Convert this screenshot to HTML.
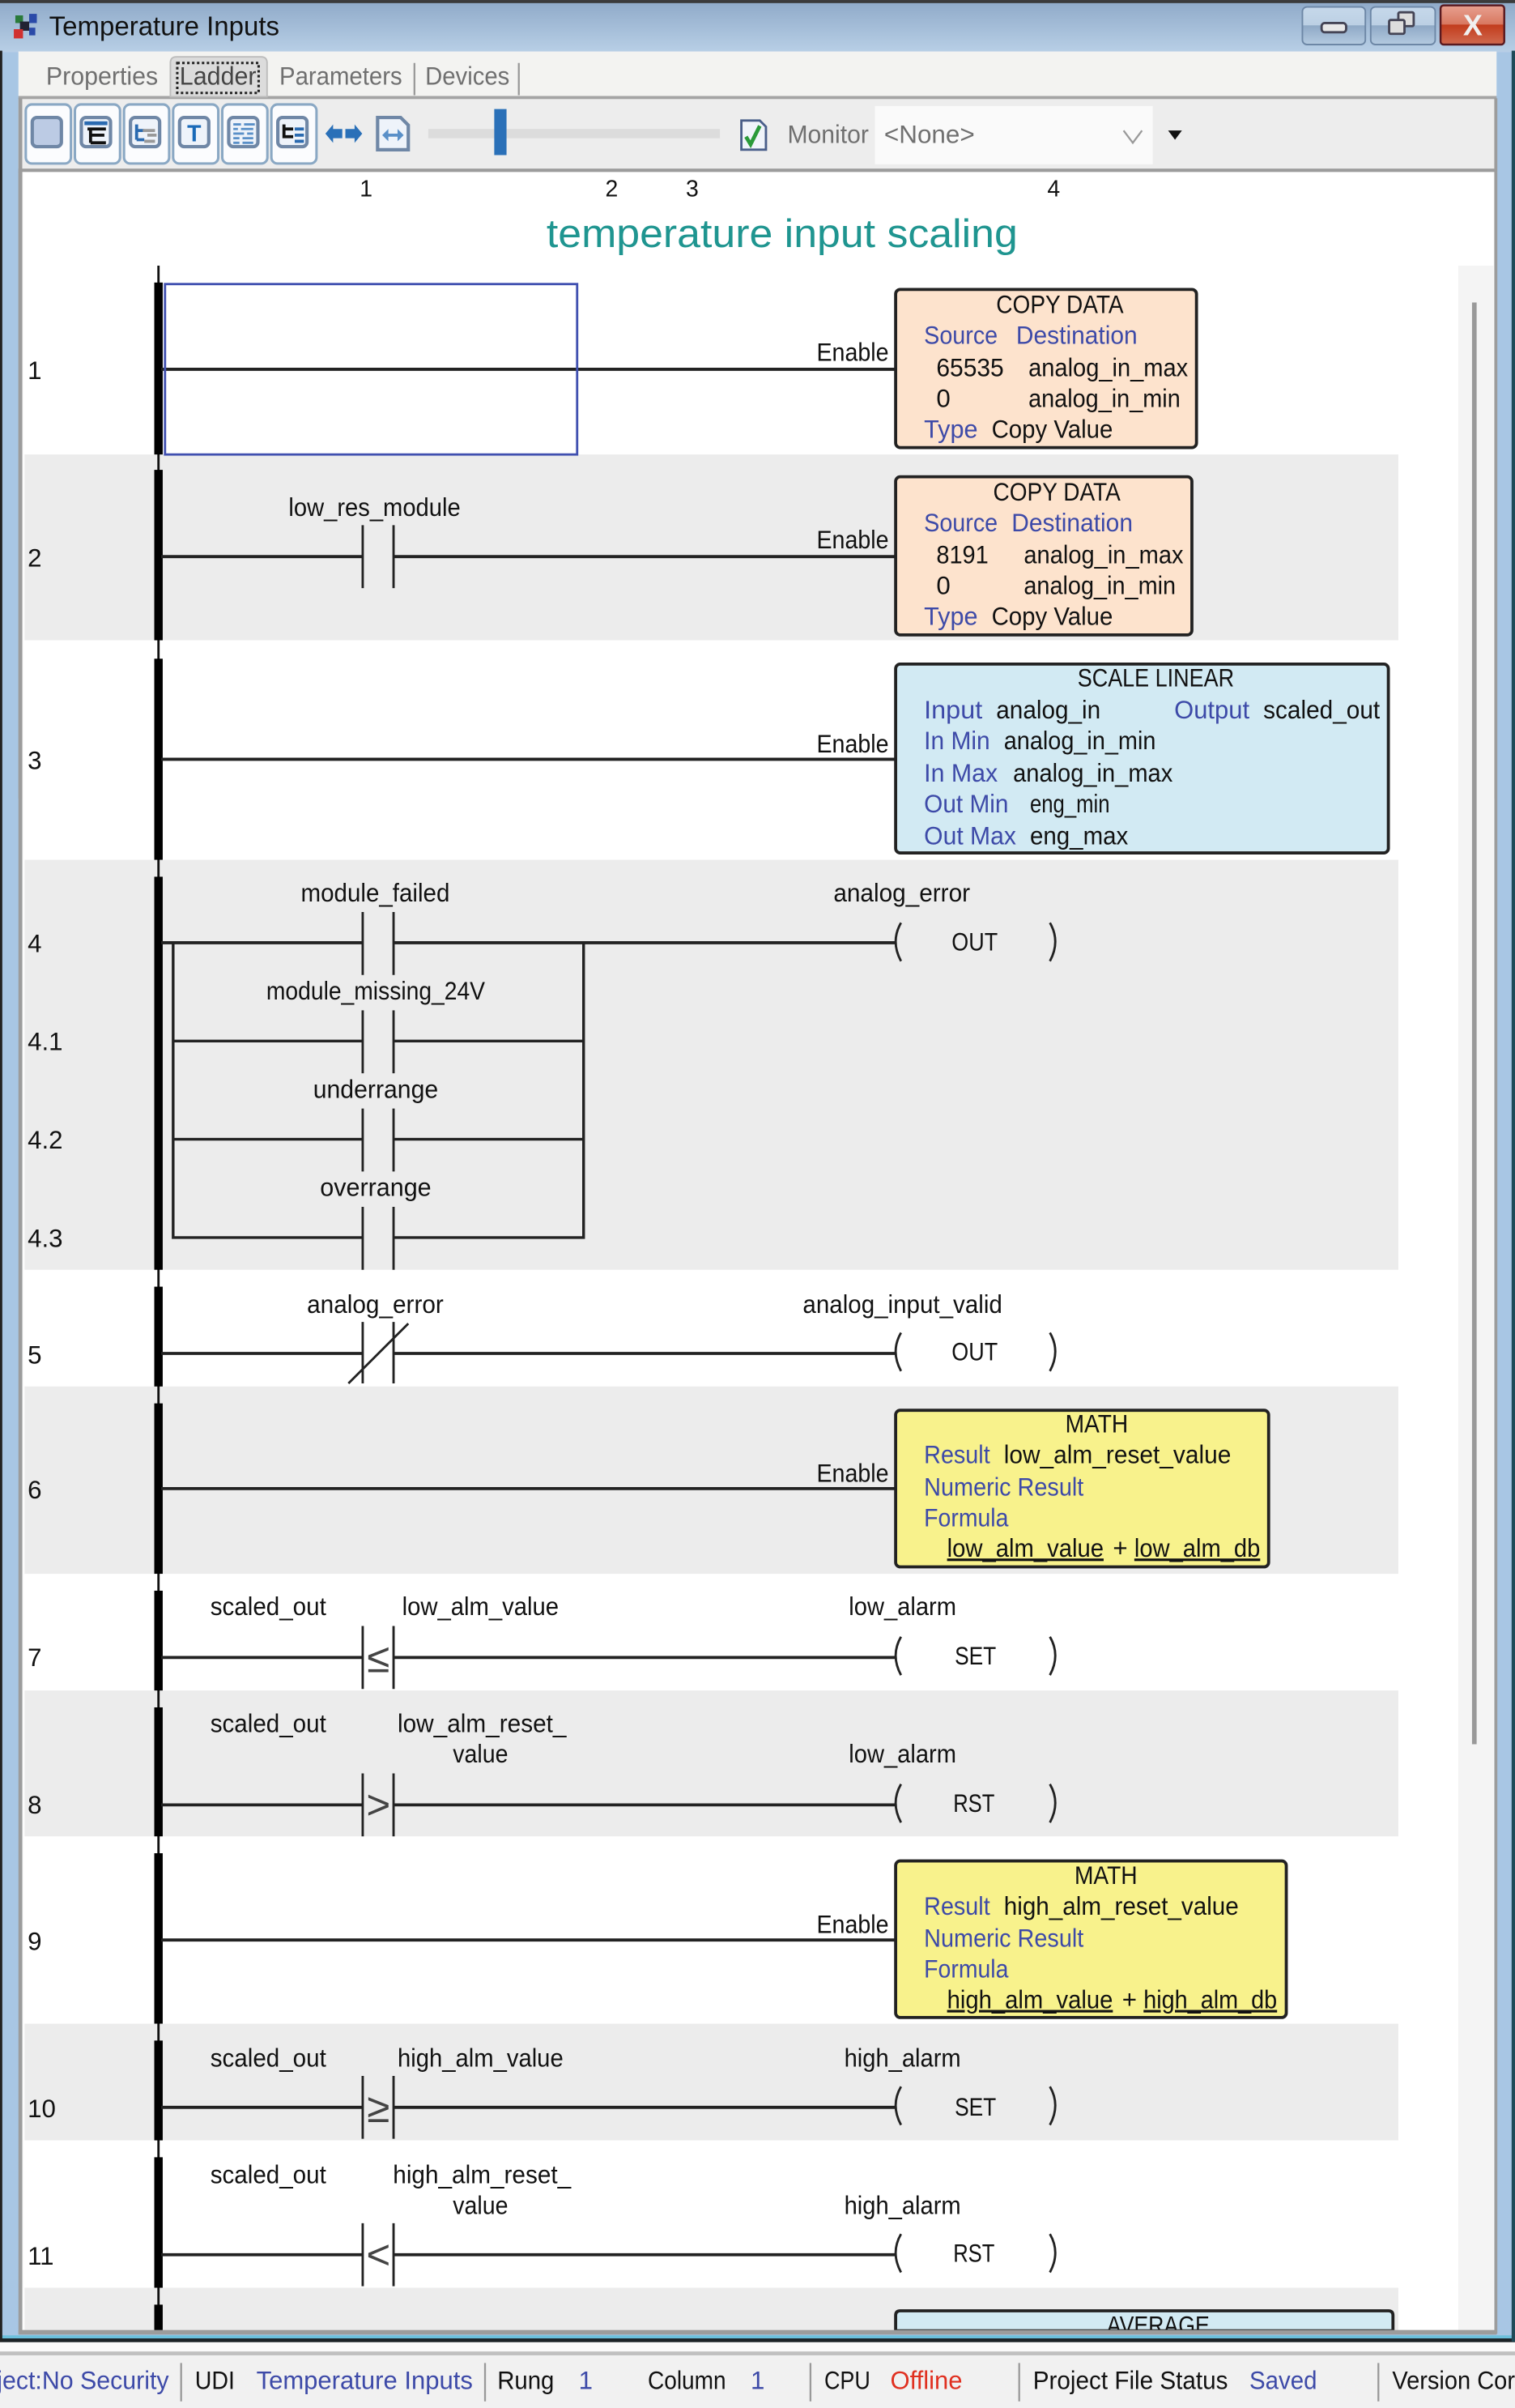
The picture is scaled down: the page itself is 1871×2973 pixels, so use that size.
<!DOCTYPE html>
<html><head><meta charset="utf-8"><title>Temperature Inputs</title>
<style>
html,body{margin:0;padding:0;background:#fff}
svg{display:block}
text{font-family:"Liberation Sans",sans-serif;font-size:16.5px;fill:#111}
.b{fill:#3d4aa8}
.g{fill:#707070}
.w{stroke:#222;stroke-width:2;fill:none}
.c{stroke:#222;stroke-width:1.5;fill:none}
.r{fill:#000}
.m{text-anchor:middle}
.k{font-size:27px;fill:#444}
</style></head><body>
<svg xmlns="http://www.w3.org/2000/svg" width="1871" height="2973" viewBox="0 0 987 1568.3">
<defs>
<linearGradient id="tb" x1="0" y1="0" x2="0" y2="1"><stop offset="0" stop-color="#8ea9c8"/><stop offset="1" stop-color="#b8cfe6"/></linearGradient>
<linearGradient id="btn" x1="0" y1="0" x2="0" y2="1"><stop offset="0" stop-color="#c6d8ea"/><stop offset=".48" stop-color="#bcd0e4"/><stop offset=".5" stop-color="#8fa9c6"/><stop offset="1" stop-color="#b4cae0"/></linearGradient>
<linearGradient id="cl" x1="0" y1="0" x2="0" y2="1"><stop offset="0" stop-color="#e8a090"/><stop offset=".48" stop-color="#d87860"/><stop offset=".5" stop-color="#c23c1c"/><stop offset="1" stop-color="#d06a50"/></linearGradient>
<clipPath id="cp"><rect x="700" y="1500" width="110" height="18"/></clipPath>
</defs>
<rect width="987" height="1568.3" fill="#fff"/>
<!-- window frame -->
<rect x="0" y="0" width="987" height="1523" fill="#a8c6e4"/>
<rect x="0" y="0" width="987" height="34" fill="url(#tb)"/>
<rect x="0" y="0" width="987" height="2" fill="#3a3a3a"/>
<rect x="0" y="1521" width="987" height="2.5" fill="#6cc0dc"/>
<rect x="0" y="1523" width="987" height="2.5" fill="#1c2226"/>
<rect x="0" y="33" width="1.500" height="1492" fill="#222"/>
<rect x="984.800" y="33" width="2.200" height="1492" fill="#1f4a58"/>
<!-- title -->
<rect x="10" y="10" width="5" height="5" fill="#2a7a3a"/><rect x="19" y="9" width="5" height="6" fill="#2a4aa8"/><rect x="13" y="14" width="6" height="6" fill="#223"/><rect x="9" y="19" width="6" height="6" fill="#d03030"/><rect x="19" y="18" width="4" height="5" fill="#2a4aa8"/>
<text x="32" y="23" textLength="150" lengthAdjust="spacingAndGlyphs" style="font-size:17.5px">Temperature Inputs</text>
<rect x="848.500" y="4.500" width="41" height="24.500" rx="3" fill="url(#btn)" stroke="#6d87a6"/>
<rect x="861" y="15" width="16" height="6" rx="2" fill="#e8e8e8" stroke="#445" stroke-width="1.500"/>
<rect x="893" y="4.500" width="42" height="24.500" rx="3" fill="url(#btn)" stroke="#6d87a6"/>
<rect x="911" y="8" width="10" height="9" rx="1" fill="#ddd" stroke="#445" stroke-width="1.500"/><rect x="905" y="13" width="10" height="9" rx="1" fill="#ddd" stroke="#445" stroke-width="1.500"/>
<rect x="938.500" y="3.500" width="41.500" height="25.500" rx="2" fill="url(#cl)" stroke="#5a1a20" stroke-width="1.300"/>
<text x="959.500" y="23" class="m" style="font-size:19px;font-weight:bold;fill:#f0f0f0">X</text>
<!-- tabs -->
<rect x="12" y="33.500" width="963" height="29" fill="#f3f3f1"/>
<rect x="12" y="62.500" width="963" height="2.200" fill="#a4a4a4"/>
<text x="30" y="55" class="g" textLength="73" lengthAdjust="spacingAndGlyphs">Properties</text>
<path d="M111 63V41q0-4 4-4h55q4 0 4 4v22z" fill="#dcdcdc" stroke="#bcbcbc"/>
<rect x="115.500" y="41" width="53" height="19.500" fill="none" stroke="#222" stroke-dasharray="1.600 1.600" stroke-width="1.600"/>
<text x="117" y="55" textLength="50" lengthAdjust="spacingAndGlyphs" style="fill:#444">Ladder</text>
<text x="182" y="55" class="g" textLength="80" lengthAdjust="spacingAndGlyphs">Parameters</text>
<text x="277" y="55" class="g" textLength="55" lengthAdjust="spacingAndGlyphs">Devices</text>
<line x1="270" y1="41" x2="270" y2="62" stroke="#999" stroke-width="1.200"/><line x1="338" y1="41" x2="338" y2="62" stroke="#999" stroke-width="1.200"/>
<!-- toolbar -->
<rect x="12" y="64.500" width="963" height="45.500" fill="#ededed"/>
<rect x="12" y="64" width="2.500" height="48" fill="#9c9c9c"/><rect x="973.500" y="64" width="2" height="48" fill="#9c9c9c"/>
<rect x="12" y="109.800" width="963" height="2.600" fill="#9c9c9c"/>
<g fill="#fbfcfe" stroke="#8aa8c4" stroke-width="1.600">
<rect x="16.800" y="68" width="29.400" height="38.500" rx="4"/><rect x="48.800" y="68" width="29.400" height="38.500" rx="4"/><rect x="80.800" y="68" width="29.400" height="38.500" rx="4"/><rect x="112.800" y="68" width="29.400" height="38.500" rx="4"/><rect x="144.800" y="68" width="29.400" height="38.500" rx="4"/><rect x="176.800" y="68" width="29.400" height="38.500" rx="4"/>
</g>
<g fill="#eef3fa" stroke="#6f87a6" stroke-width="2.200">
<rect x="21" y="76.500" width="19" height="19" rx="3" fill="#bccbe4"/><rect x="53" y="76.500" width="19" height="19" rx="3"/><rect x="85" y="76.500" width="19" height="19" rx="3"/><rect x="117" y="76.500" width="19" height="19" rx="3"/><rect x="149" y="76.500" width="19" height="19" rx="3"/><rect x="181" y="76.500" width="19" height="19" rx="3"/>
</g>
<rect x="55" y="79" width="15" height="2.500" fill="#2a6ab0"/>
<path d="M57 84h12M59 84v9M59 88h9M59 93h10" stroke="#111" stroke-width="2" fill="none"/>
<path d="M89 81v10M89 85h5M89 91h5" stroke="#2a6ab0" stroke-width="2" fill="none"/>
<path d="M93 85h8M96 88h6M94 92h7" stroke="#999" stroke-width="2" fill="none"/>
<text x="126.500" y="92" class="m" style="font-size:15px;font-weight:bold;fill:#1a6ab8">T</text>
<path d="M152 81h5M159 81h7M152 84h3M157 84h8M152 87h7M161 87h4M152 90h4M158 90h7M152 93h4M158 93h7" stroke="#5a90c8" stroke-width="1.500" fill="none"/>
<path d="M185 81v9M185 84h6M185 89h6" stroke="#111" stroke-width="2" fill="none"/>
<path d="M192 84h6M192 88h6M192 92h6" stroke="#2a6ab0" stroke-width="2" fill="none"/>
<path d="M212 87l5-6v3h6v6h-6v3zM236 87l-5-6v3h-6v6h6v3z" fill="#2a70b8"/>
<path d="M246 76.500h15l5 5v16h-20z" fill="#eef3fa" stroke="#6f87a6" stroke-width="2.200"/><path d="M249 88l4-4v3h6v-3l4 4-4 4v-3h-6v3z" fill="#5a90c8"/>
<rect x="279" y="84" width="190" height="6" fill="#dcdcdc"/>
<rect x="322" y="71" width="8" height="30" fill="#2a70b8"/>
<path d="M483 78.500h12l4 4v15h-16z" fill="#f0f4fa" stroke="#4a5f8a" stroke-width="1.500"/><path d="M486 89l3 5 6-12" fill="none" stroke="#2a9a3a" stroke-width="2.500"/>
<text x="513" y="93" class="g" textLength="53" lengthAdjust="spacingAndGlyphs">Monitor</text>
<rect x="570" y="69" width="181" height="38" fill="#fafafa"/>
<text x="576" y="93" class="g" textLength="59" lengthAdjust="spacingAndGlyphs">&lt;None&gt;</text>
<path d="M732 85l6 8 6-8" fill="none" stroke="#999" stroke-width="1.200"/>
<path d="M761 85h9l-4.500 6z" fill="#111"/>
<!-- content -->
<rect x="12" y="112" width="963" height="408" fill="#9c9c9c"/>
<rect x="12" y="112" width="2.500" height="1408" fill="#9c9c9c"/>
<rect x="973.500" y="112" width="2" height="1408" fill="#9c9c9c"/>
<rect x="14.500" y="112" width="1" height="1406" fill="#f0f0f0"/>
<rect x="15" y="112" width="958.500" height="1406" fill="#fff"/>
<rect x="950" y="173" width="23" height="1345" fill="#f4f4f4"/>
<rect x="959" y="197" width="3" height="939" fill="#999"/>
<!-- header -->
<text x="238.500" y="128" class="m" style="font-size:15px">1</text>
<text x="398.500" y="128" class="m" style="font-size:15px">2</text>
<text x="451" y="128" class="m" style="font-size:15px">3</text>
<text x="686.500" y="128" class="m" style="font-size:15px">4</text>
<text x="356" y="161" textLength="307" lengthAdjust="spacingAndGlyphs" style="font-size:26px;fill:#1f9590">temperature input scaling</text>
<!-- bands -->
<g fill="#ececec">
<rect x="16" y="296" width="895" height="121"/><rect x="16" y="560" width="895" height="267"/><rect x="16" y="903" width="895" height="122"/><rect x="16" y="1101" width="895" height="95"/><rect x="16" y="1318" width="895" height="76"/><rect x="16" y="1490" width="895" height="28"/>
</g>
<!-- rail -->
<rect x="102.500" y="173" width="1.500" height="1345" fill="#111"/>
<g class="r">
<rect x="100.500" y="184" width="5.500" height="112"/><rect x="100.500" y="306" width="5.500" height="111"/><rect x="100.500" y="429" width="5.500" height="131"/><rect x="100.500" y="571" width="5.500" height="256"/><rect x="100.500" y="838" width="5.500" height="65"/><rect x="100.500" y="914" width="5.500" height="111"/><rect x="100.500" y="1036" width="5.500" height="65"/><rect x="100.500" y="1112" width="5.500" height="84"/><rect x="100.500" y="1207" width="5.500" height="111"/><rect x="100.500" y="1329" width="5.500" height="65"/><rect x="100.500" y="1405" width="5.500" height="85"/><rect x="100.500" y="1501" width="5.500" height="17"/>
</g>
<!-- rung numbers -->
<text x="18" y="247">1</text><text x="18" y="369">2</text><text x="18" y="501">3</text><text x="18" y="620">4</text><text x="18" y="684">4.1</text><text x="18" y="748">4.2</text><text x="18" y="812">4.3</text><text x="18" y="888">5</text><text x="18" y="976">6</text><text x="18" y="1085">7</text><text x="18" y="1181">8</text><text x="18" y="1270">9</text><text x="18" y="1379">10</text><text x="18" y="1475">11</text>
<!-- rung 1 -->
<line x1="105" y1="240.500" x2="584" y2="240.500" class="w"/>
<rect x="107.500" y="185" width="268.500" height="111" fill="none" stroke="#4050b0" stroke-width="1.500"/>
<text x="532" y="235" textLength="47" lengthAdjust="spacingAndGlyphs">Enable</text>
<rect x="583.500" y="188.500" width="196" height="103" rx="3" fill="#fde3cd" stroke="#222" stroke-width="2"/>
<text x="649" y="204" textLength="83" lengthAdjust="spacingAndGlyphs">COPY DATA</text>
<text x="602" y="224" class="b" textLength="48" lengthAdjust="spacingAndGlyphs">Source</text><text x="662" y="224" class="b" textLength="79" lengthAdjust="spacingAndGlyphs">Destination</text>
<text x="610" y="245" textLength="44" lengthAdjust="spacingAndGlyphs">65535</text><text x="670" y="245" textLength="104" lengthAdjust="spacingAndGlyphs">analog_in_max</text>
<text x="610" y="265">0</text><text x="670" y="265" textLength="99" lengthAdjust="spacingAndGlyphs">analog_in_min</text>
<text x="602" y="285" class="b" textLength="35" lengthAdjust="spacingAndGlyphs">Type</text><text x="646" y="285" textLength="79" lengthAdjust="spacingAndGlyphs">Copy Value</text>
<!-- rung 2 -->
<line x1="105" y1="362.500" x2="236" y2="362.500" class="w"/><line x1="256" y1="362.500" x2="584" y2="362.500" class="w"/>
<path d="M236.300 342v41M256.400 342v41" class="c"/>
<text x="188" y="336" textLength="112" lengthAdjust="spacingAndGlyphs">low_res_module</text>
<text x="532" y="357" textLength="47" lengthAdjust="spacingAndGlyphs">Enable</text>
<rect x="583.500" y="310.500" width="193" height="103" rx="3" fill="#fde3cd" stroke="#222" stroke-width="2"/>
<text x="647" y="326" textLength="83" lengthAdjust="spacingAndGlyphs">COPY DATA</text>
<text x="602" y="346" class="b" textLength="48" lengthAdjust="spacingAndGlyphs">Source</text><text x="659" y="346" class="b" textLength="79" lengthAdjust="spacingAndGlyphs">Destination</text>
<text x="610" y="367" textLength="34" lengthAdjust="spacingAndGlyphs">8191</text><text x="667" y="367" textLength="104" lengthAdjust="spacingAndGlyphs">analog_in_max</text>
<text x="610" y="387">0</text><text x="667" y="387" textLength="99" lengthAdjust="spacingAndGlyphs">analog_in_min</text>
<text x="602" y="407" class="b" textLength="35" lengthAdjust="spacingAndGlyphs">Type</text><text x="646" y="407" textLength="79" lengthAdjust="spacingAndGlyphs">Copy Value</text>
<!-- rung 3 -->
<line x1="105" y1="494.500" x2="584" y2="494.500" class="w"/>
<text x="532" y="490" textLength="47" lengthAdjust="spacingAndGlyphs">Enable</text>
<rect x="583.500" y="432.500" width="321" height="123" rx="3" fill="#d2eaf3" stroke="#222" stroke-width="2"/>
<text x="702" y="447" textLength="102" lengthAdjust="spacingAndGlyphs">SCALE LINEAR</text>
<text x="602" y="468" class="b" textLength="38" lengthAdjust="spacingAndGlyphs">Input</text><text x="649" y="468" textLength="68" lengthAdjust="spacingAndGlyphs">analog_in</text><text x="765" y="468" class="b" textLength="49" lengthAdjust="spacingAndGlyphs">Output</text><text x="823" y="468" textLength="76" lengthAdjust="spacingAndGlyphs">scaled_out</text>
<text x="602" y="488" class="b" textLength="43" lengthAdjust="spacingAndGlyphs">In Min</text><text x="654" y="488" textLength="99" lengthAdjust="spacingAndGlyphs">analog_in_min</text>
<text x="602" y="509" class="b" textLength="48" lengthAdjust="spacingAndGlyphs">In Max</text><text x="660" y="509" textLength="104" lengthAdjust="spacingAndGlyphs">analog_in_max</text>
<text x="602" y="529" class="b" textLength="55" lengthAdjust="spacingAndGlyphs">Out Min</text><text x="671" y="529" textLength="52" lengthAdjust="spacingAndGlyphs">eng_min</text>
<text x="602" y="550" class="b" textLength="60" lengthAdjust="spacingAndGlyphs">Out Max</text><text x="671" y="550" textLength="64" lengthAdjust="spacingAndGlyphs">eng_max</text>
<!-- rung 4 -->
<line x1="105" y1="614" x2="236" y2="614" class="w"/><line x1="257" y1="614" x2="584" y2="614" class="w"/>
<path d="M236.300 594v41M256.400 594v41M236.300 658v41M256.400 658v41M236.300 722v41M256.400 722v41M236.300 786v41M256.400 786v41" class="c"/>
<path d="M112.800 614V806H236M257 806H380.200V614M112.800 678H236M257 678H380.200M112.800 742H236M257 742H380.200" stroke="#222" stroke-width="1.800" fill="none"/>
<text x="196" y="587" textLength="97" lengthAdjust="spacingAndGlyphs">module_failed</text>
<text x="173.500" y="651" textLength="142.500" lengthAdjust="spacingAndGlyphs">module_missing_24V</text>
<text x="204" y="715" textLength="81.500" lengthAdjust="spacingAndGlyphs">underrange</text>
<text x="208.500" y="779" textLength="72.500" lengthAdjust="spacingAndGlyphs">overrange</text>
<text x="543" y="587" textLength="89" lengthAdjust="spacingAndGlyphs">analog_error</text>
<path d="M587 601q-7 12 0 25M684 601q7 12 0 25" fill="none" stroke="#222" stroke-width="1.500"/>
<text x="620" y="619" textLength="30" lengthAdjust="spacingAndGlyphs">OUT</text>
<!-- rung 5 -->
<line x1="105" y1="881.500" x2="236" y2="881.500" class="w"/><line x1="257" y1="881.500" x2="584" y2="881.500" class="w"/>
<path d="M236.300 861v40M256.400 861v40M227 901L266 862" class="c"/>
<text x="200" y="855" textLength="89" lengthAdjust="spacingAndGlyphs">analog_error</text>
<text x="523" y="855" textLength="130" lengthAdjust="spacingAndGlyphs">analog_input_valid</text>
<path d="M587 868q-7 12 0 25M684 868q7 12 0 25" fill="none" stroke="#222" stroke-width="1.500"/>
<text x="620" y="886" textLength="30" lengthAdjust="spacingAndGlyphs">OUT</text>
<!-- rung 6 -->
<line x1="105" y1="969.500" x2="584" y2="969.500" class="w"/>
<text x="532" y="965" textLength="47" lengthAdjust="spacingAndGlyphs">Enable</text>
<rect x="583.500" y="918.500" width="243" height="102" rx="3" fill="#f8f28c" stroke="#222" stroke-width="2"/>
<text x="694" y="933" textLength="41" lengthAdjust="spacingAndGlyphs">MATH</text>
<text x="602" y="953" class="b" textLength="43" lengthAdjust="spacingAndGlyphs">Result</text><text x="654" y="953" textLength="148" lengthAdjust="spacingAndGlyphs">low_alm_reset_value</text>
<text x="602" y="974" class="b" textLength="104" lengthAdjust="spacingAndGlyphs">Numeric Result</text>
<text x="602" y="994" class="b" textLength="55" lengthAdjust="spacingAndGlyphs">Formula</text>
<text x="617" y="1014" text-decoration="underline" textLength="102" lengthAdjust="spacingAndGlyphs">low_alm_value</text><text x="725" y="1014">+</text><text x="739" y="1014" text-decoration="underline" textLength="82" lengthAdjust="spacingAndGlyphs">low_alm_db</text>
<!-- rung 7 -->
<line x1="105" y1="1079.500" x2="236" y2="1079.500" class="w"/><line x1="257" y1="1079.500" x2="584" y2="1079.500" class="w"/>
<path d="M236.300 1059v41M256.400 1059v41" class="c"/>
<text x="246.500" y="1089" class="m k">≤</text>
<text x="137" y="1052" textLength="75.500" lengthAdjust="spacingAndGlyphs">scaled_out</text><text x="262" y="1052" textLength="102" lengthAdjust="spacingAndGlyphs">low_alm_value</text><text x="553" y="1052" textLength="70" lengthAdjust="spacingAndGlyphs">low_alarm</text>
<path d="M587 1066q-7 12 0 25M684 1066q7 12 0 25" fill="none" stroke="#222" stroke-width="1.500"/>
<text x="622" y="1084" textLength="27" lengthAdjust="spacingAndGlyphs">SET</text>
<!-- rung 8 -->
<line x1="105" y1="1175.500" x2="236" y2="1175.500" class="w"/><line x1="257" y1="1175.500" x2="584" y2="1175.500" class="w"/>
<path d="M236.300 1155v41M256.400 1155v41" class="c"/>
<text x="246.500" y="1184.500" class="m k">&gt;</text>
<text x="137" y="1128" textLength="75.500" lengthAdjust="spacingAndGlyphs">scaled_out</text><text x="259" y="1128" textLength="110" lengthAdjust="spacingAndGlyphs">low_alm_reset_</text><text x="295" y="1148" textLength="36" lengthAdjust="spacingAndGlyphs">value</text><text x="553" y="1148" textLength="70" lengthAdjust="spacingAndGlyphs">low_alarm</text>
<path d="M587 1162q-7 12 0 25M684 1162q7 12 0 25" fill="none" stroke="#222" stroke-width="1.500"/>
<text x="621" y="1180" textLength="27" lengthAdjust="spacingAndGlyphs">RST</text>
<!-- rung 9 -->
<line x1="105" y1="1263.500" x2="584" y2="1263.500" class="w"/>
<text x="532" y="1259" textLength="47" lengthAdjust="spacingAndGlyphs">Enable</text>
<rect x="583.500" y="1212" width="254.500" height="102" rx="3" fill="#f8f28c" stroke="#222" stroke-width="2"/>
<text x="700" y="1227" textLength="41" lengthAdjust="spacingAndGlyphs">MATH</text>
<text x="602" y="1247" class="b" textLength="43" lengthAdjust="spacingAndGlyphs">Result</text><text x="654" y="1247" textLength="153" lengthAdjust="spacingAndGlyphs">high_alm_reset_value</text>
<text x="602" y="1268" class="b" textLength="104" lengthAdjust="spacingAndGlyphs">Numeric Result</text>
<text x="602" y="1288" class="b" textLength="55" lengthAdjust="spacingAndGlyphs">Formula</text>
<text x="617" y="1308" text-decoration="underline" textLength="108" lengthAdjust="spacingAndGlyphs">high_alm_value</text><text x="731" y="1308">+</text><text x="745" y="1308" text-decoration="underline" textLength="87" lengthAdjust="spacingAndGlyphs">high_alm_db</text>
<!-- rung 10 -->
<line x1="105" y1="1372.500" x2="236" y2="1372.500" class="w"/><line x1="257" y1="1372.500" x2="584" y2="1372.500" class="w"/>
<path d="M236.300 1352v41M256.400 1352v41" class="c"/>
<text x="246.500" y="1382" class="m k">≥</text>
<text x="137" y="1346" textLength="75.500" lengthAdjust="spacingAndGlyphs">scaled_out</text><text x="259" y="1346" textLength="108" lengthAdjust="spacingAndGlyphs">high_alm_value</text><text x="550" y="1346" textLength="76" lengthAdjust="spacingAndGlyphs">high_alarm</text>
<path d="M587 1359q-7 12 0 25M684 1359q7 12 0 25" fill="none" stroke="#222" stroke-width="1.500"/>
<text x="622" y="1378" textLength="27" lengthAdjust="spacingAndGlyphs">SET</text>
<!-- rung 11 -->
<line x1="105" y1="1468.500" x2="236" y2="1468.500" class="w"/><line x1="257" y1="1468.500" x2="584" y2="1468.500" class="w"/>
<path d="M236.300 1448v41M256.400 1448v41" class="c"/>
<text x="246.500" y="1477.500" class="m k">&lt;</text>
<text x="137" y="1422" textLength="75.500" lengthAdjust="spacingAndGlyphs">scaled_out</text><text x="256" y="1422" textLength="116" lengthAdjust="spacingAndGlyphs">high_alm_reset_</text><text x="295" y="1442" textLength="36" lengthAdjust="spacingAndGlyphs">value</text><text x="550" y="1442" textLength="76" lengthAdjust="spacingAndGlyphs">high_alarm</text>
<path d="M587 1455q-7 12 0 25M684 1455q7 12 0 25" fill="none" stroke="#222" stroke-width="1.500"/>
<text x="621" y="1473" textLength="27" lengthAdjust="spacingAndGlyphs">RST</text>
<!-- rung 12 partial -->
<path d="M583.500 1518v-10q0-3 3-3h318q3 0 3 3v10z" fill="#d2eaf3" stroke="#222" stroke-width="2"/>
<text x="721" y="1520" textLength="67" lengthAdjust="spacingAndGlyphs" clip-path="url(#cp)">AVERAGE</text>
<rect x="12" y="1517.500" width="963" height="3" fill="#9c9c9c"/>
<!-- status bar -->
<rect x="0" y="1525.500" width="987" height="6" fill="#fafafa"/>
<rect x="0" y="1531.500" width="987" height="36.800" fill="#f1f1f1"/>
<rect x="0" y="1531.500" width="987" height="2.500" fill="#c0c0c0"/>
<g stroke="#999" stroke-width="1.200"><line x1="118" y1="1539" x2="118" y2="1564"/><line x1="316" y1="1539" x2="316" y2="1564"/><line x1="528" y1="1539" x2="528" y2="1564"/><line x1="664" y1="1539" x2="664" y2="1564"/><line x1="898" y1="1539" x2="898" y2="1564"/></g>
<text x="-2" y="1556" class="b" textLength="112" lengthAdjust="spacingAndGlyphs">ject:No Security</text>
<text x="127" y="1556" textLength="26" lengthAdjust="spacingAndGlyphs">UDI</text>
<text x="167" y="1556" class="b" textLength="141" lengthAdjust="spacingAndGlyphs">Temperature Inputs</text>
<text x="324" y="1556" textLength="37" lengthAdjust="spacingAndGlyphs">Rung</text>
<text x="377" y="1556" class="b">1</text>
<text x="422" y="1556" textLength="51" lengthAdjust="spacingAndGlyphs">Column</text>
<text x="489" y="1556" class="b">1</text>
<text x="537" y="1556" textLength="30" lengthAdjust="spacingAndGlyphs">CPU</text>
<text x="580" y="1556" textLength="47" lengthAdjust="spacingAndGlyphs" style="fill:#e03020">Offline</text>
<text x="673" y="1556" textLength="127" lengthAdjust="spacingAndGlyphs">Project File Status</text>
<text x="814" y="1556" class="b" textLength="44" lengthAdjust="spacingAndGlyphs">Saved</text>
<text x="907" y="1556" textLength="80" lengthAdjust="spacingAndGlyphs">Version Cor</text>
</svg>
</body></html>
